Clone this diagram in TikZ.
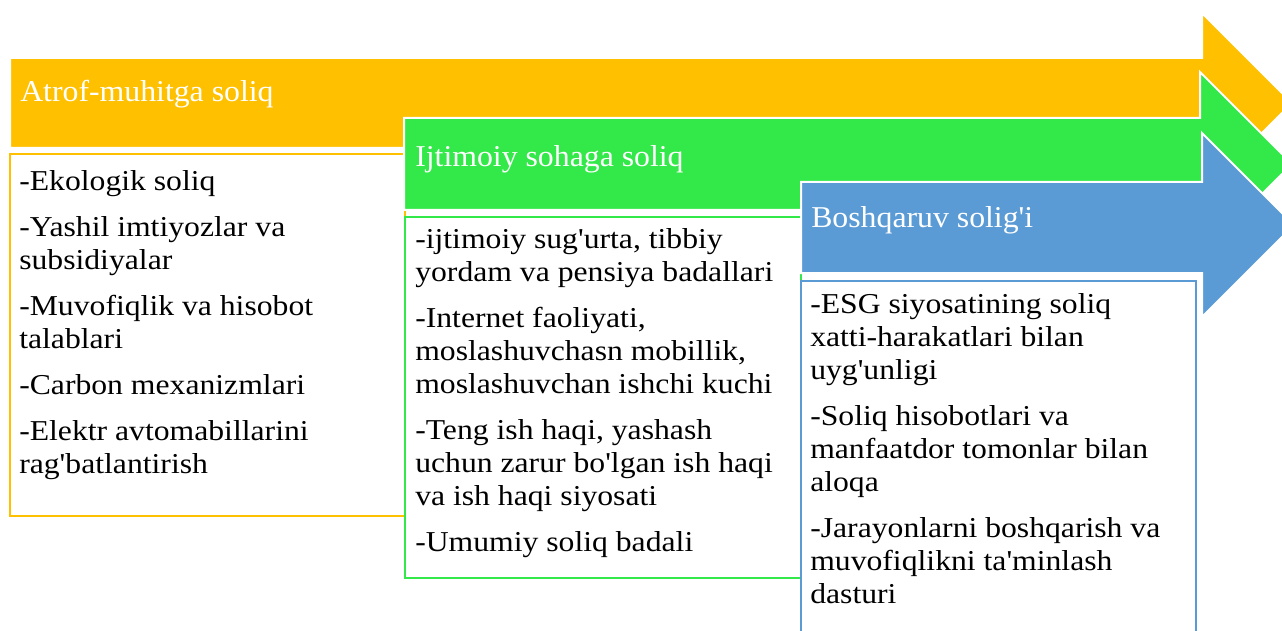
\documentclass[tikz,border=0pt]{standalone}
\usepackage{fontspec}
\newfontfamily\uzfont{Liberation Serif}[FakeStretch=1.1]
\newfontfamily\uzhfont{Liberation Serif}[FakeStretch=1.05]
\usetikzlibrary{positioning,calc}
\definecolor{envyel}{RGB}{255,192,0}
\definecolor{socgrn}{RGB}{51,233,74}
\definecolor{govblu}{RGB}{91,155,213}
\newcommand{\lnstrut}{\rule{0pt}{16pt}}
\tikzset{
  arr/.style  = { fill=#1, draw=white, line width=1.5pt },
  hdr/.style  = { anchor=base west, inner sep=0pt, text=white,
    font=\uzhfont\fontsize{22.7}{26}\selectfont },
  bx/.style   = { draw=#1, line width=1.5pt, fill=white, anchor=north west,
    inner sep=0pt },
  txt/.style  = { anchor=north west, inner sep=0pt, align=left,
    font=\uzfont\fontsize{21.6}{24.75}\selectfont }
}

\begin{document}
\begin{tikzpicture}[x=0.75pt,y=-0.75pt]
    \useasboundingbox (0,0) rectangle (1282,631);
    \clip (0,0) rectangle (1282,631);
    % Atrof-muhit
    \path[arr=envyel] (10,58) -- (1202,58) -- (1202,13) -- (1292,103)
      -- (1202,193) -- (1202,148) -- (10,148) -- cycle;
    \node[hdr] (yh) at (20,102) {Atrof-muhitga soliq};
    \node[bx=envyel, minimum width=296.25pt, minimum height=271.5pt] (yb) at (9,153) {};
    \node[txt, below right=11.8pt and 7.5pt of yb.north west] (yt) {\lnstrut-Ekologik soliq\\[9.75pt]
      -Yashil imtiyozlar va\\ subsidiyalar\\[9.75pt]
      -Muvofiqlik va hisobot\\ talablari\\[9.75pt]
      -Carbon mexanizmlari\\[9.75pt]
      -Elektr avtomabillarini\\ rag'batlantirish};
    % Ijtimoiy soha
    \path[arr=socgrn] (404,118) -- (1200,118) -- (1200,72) -- (1292,164)
      -- (1200,256) -- (1200,210) -- (404,210) -- cycle;
    \node[hdr] (gh) at (415,167) {Ijtimoiy sohaga soliq};
    \node[bx=socgrn, minimum width=297pt, minimum height=270.75pt] (gb) at (404,216) {};
    \node[txt, below right=8pt and 8.25pt of gb.north west] (gt) {\lnstrut-ijtimoiy sug'urta, tibbiy\\ yordam va pensiya badallari\\[9.75pt]
      -Internet faoliyati,\\ moslashuvchasn mobillik,\\ moslashuvchan ishchi kuchi\\[9.75pt]
      -Teng ish haqi, yashash\\ uchun zarur bo'lgan ish haqi\\ va ish haqi siyosati\\[9.75pt]
      -Umumiy soliq badali};
    % Boshqaruv
    \path[arr=govblu] (801,182) -- (1202,182) -- (1202,133) -- (1294,225)
      -- (1202,317) -- (1202,273) -- (801,273) -- cycle;
    \node[hdr] (bh) at (811,228) {Boshqaruv solig'i};
    \node[bx=govblu, minimum width=296.25pt, minimum height=300pt] (bb) at (800,280) {};
    \node[txt, below right=8.8pt and 7.5pt of bb.north west] (bt) {\lnstrut-ESG siyosatining soliq\\ xatti-harakatlari bilan\\ uyg'unligi\\[9.75pt]
      -Soliq hisobotlari va\\ manfaatdor tomonlar bilan\\ aloqa\\[9.75pt]
      -Jarayonlarni boshqarish va\\ muvofiqlikni ta'minlash\\ dasturi};
\end{tikzpicture}
\end{document}
